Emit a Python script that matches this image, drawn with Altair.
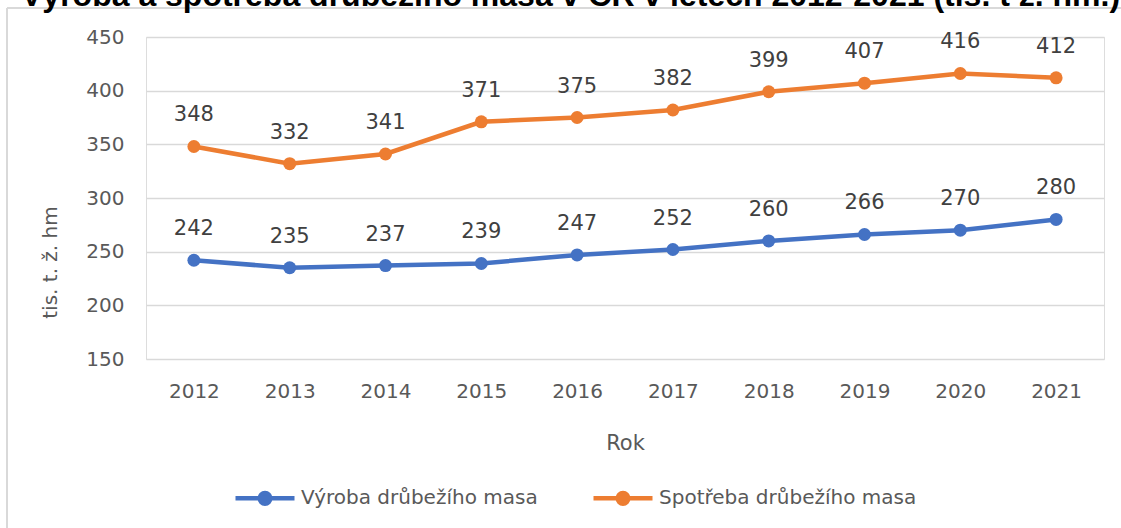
import altair as alt
import pandas as pd

title_text = "Výroba a spotřeba drůbežího masa v ČR v letech 2012-2021 (tis. t ž. hm.)"
years = ["2012", "2013", "2014", "2015", "2016", "2017", "2018", "2019", "2020", "2021"]
vyroba = [242, 235, 237, 239, 247, 252, 260, 266, 270, 280]
spotreba = [348, 332, 341, 371, 375, 382, 399, 407, 416, 412]
series_names = ["Výroba drůbežího masa", "Spotřeba drůbežího masa"]
series_colors = ["#4472C4", "#ED7D31"]
y_ticks = [150, 200, 250, 300, 350, 400, 450]
x_title = "Rok"
y_title = "tis. t. ž. hm"

rows = []
for name, vals in zip(series_names, [vyroba, spotreba]):
    for yr, v in zip(years, vals):
        rows.append({"Rok": yr, "series": name, "value": v})
df = pd.DataFrame(rows)

FONT = "DejaVu Sans"
GRAY = "#595959"

x_enc = alt.X(
    "Rok:O",
    sort=years,
    scale=alt.Scale(type="point", padding=0.5),
    axis=alt.Axis(
        title=x_title, domain=False, ticks=False, tickSize=0, labelPadding=22,
        labelAngle=0, labelFont=FONT, labelFontSize=20, labelColor=GRAY,
        titleFont=FONT, titleFontSize=21, titleColor=GRAY, titleFontWeight="normal",
        titleX=479, titleY=84, titleBaseline="middle", titleAlign="center",
        grid=False,
    ),
)
y_enc = alt.Y(
    "value:Q",
    scale=alt.Scale(domain=[150, 450], nice=False, zero=False),
    axis=alt.Axis(
        values=y_ticks, domain=False, ticks=False, tickSize=0, labelPadding=22,
        labelFont=FONT, labelFontSize=20, labelColor=GRAY,
        grid=True, gridColor="#d9d9d9", gridWidth=1.5,
        title=y_title, titleFont=FONT, titleFontSize=20, titleColor=GRAY,
        titleFontWeight="normal", titleAngle=270, titleX=-96, titleY=225,
        titleBaseline="middle", titleAlign="center",
    ),
)
color_enc = alt.Color(
    "series:N",
    scale=alt.Scale(domain=series_names, range=series_colors),
    sort=series_names,
    legend=alt.Legend(
        title=None, orient="none", direction="horizontal",
        legendX=87, legendY=429, padding=0,
        symbolType="M-1,0H1M-0.18,0A0.18,0.18 0 1,0 0.18,0A0.18,0.18 0 1,0 -0.18,0Z",
        symbolSize=3481, symbolStrokeWidth=4.5, symbolOpacity=1,
        labelFont=FONT, labelFontSize=20, labelColor=GRAY, labelOffset=4,
        labelLimit=400, columnPadding=46,
    ),
)

base = alt.Chart(df).encode(x=x_enc, y=y_enc, color=color_enc)
lines = base.mark_line(strokeWidth=4.5)
points = base.mark_point(filled=True, size=169, opacity=1)
labels = alt.Chart(df).mark_text(
    dy=-31, baseline="middle", font=FONT, fontSize=21
).encode(x=x_enc, y=y_enc, text="value:Q", color=alt.value("#404040"))

frame_top = alt.Chart(pd.DataFrame({"a": [0]})).mark_rule(
    stroke="#d9d9d9", strokeWidth=2
).encode(x=alt.value(-139), x2=alt.value(975), y=alt.value(-29))
frame_left = alt.Chart(pd.DataFrame({"a": [0]})).mark_rule(
    stroke="#d9d9d9", strokeWidth=2
).encode(x=alt.value(-139), y=alt.value(-29), y2=alt.value(491))

title = alt.Chart(pd.DataFrame({"t": [title_text]})).mark_text(
    align="left", baseline="alphabetic", font="Liberation Sans", fontWeight="bold",
    fontSize=32, color="#000000"
).encode(text="t:N", x=alt.value(-125), y=alt.value(-31))

chart = alt.layer(frame_top, frame_left, title, lines, points, labels).properties(
    width=958, height=322,
    padding={"left": 146, "top": 37, "right": 17, "bottom": 169},
    autosize=alt.AutoSizeParams(type="none"),
).configure_view(stroke=None).configure(background="white")

chart.save("out.html", embed_options={"renderer": "svg", "actions": False})
